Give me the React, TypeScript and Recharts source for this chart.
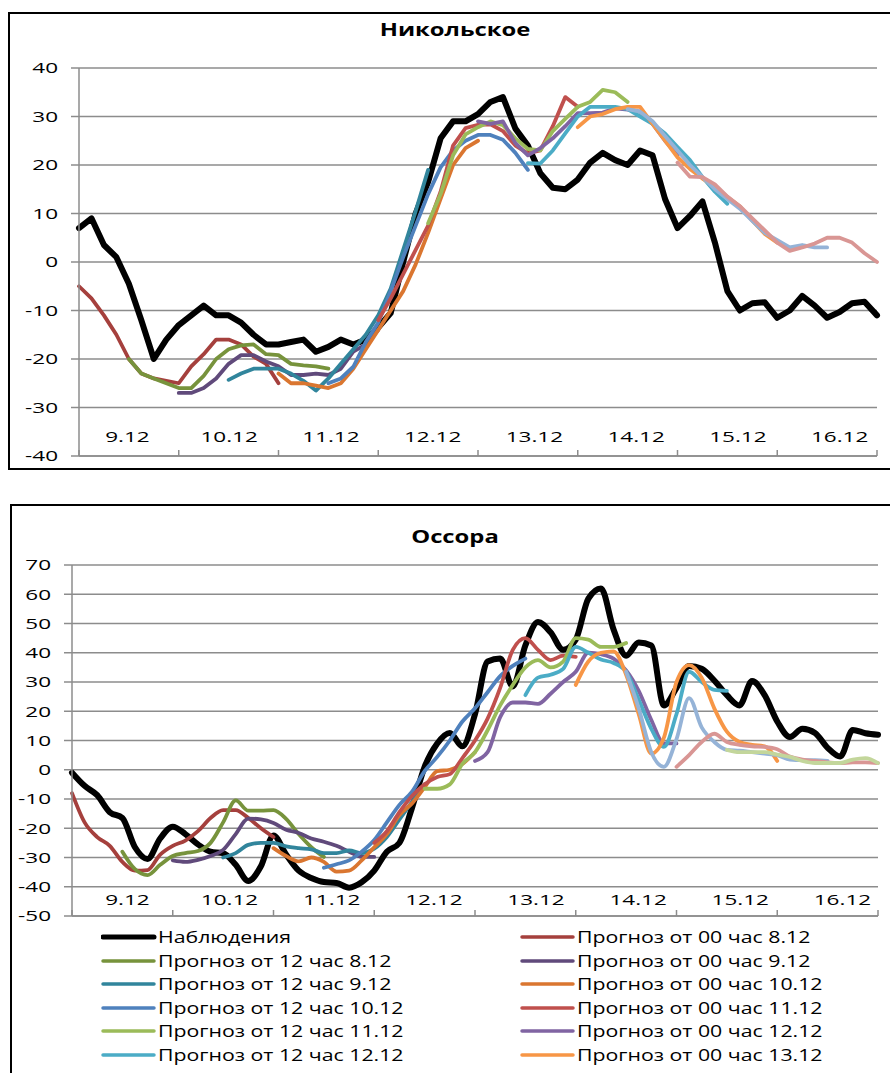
import React from 'react';
import { LineChart, Line, XAxis, YAxis, CartesianGrid } from 'recharts';

// Values are sampled every 3 hours, hour 0 = 00 h on 9.12
const STEP_HOURS = 3;

const dayLabels = ['9.12', '10.12', '11.12', '12.12', '13.12', '14.12', '15.12', '16.12'];
const axisHours = [0, 12, 24, 36, 48, 60, 72, 84, 96, 108, 120, 132, 144, 156, 168, 180, 192];

const nikTicks = [-40, -30, -20, -10, 0, 10, 20, 30, 40];
const ossTicks = [-50, -40, -30, -20, -10, 0, 10, 20, 30, 40, 50, 60, 70];

const observedLabel = 'Наблюдения';
const runLabels = [
  'Прогноз от 00 час 8.12',
  'Прогноз от 12 час 8.12',
  'Прогноз от 00 час 9.12',
  'Прогноз от 12 час 9.12',
  'Прогноз от 00 час 10.12',
  'Прогноз от 12 час 10.12',
  'Прогноз от 00 час 11.12',
  'Прогноз от 12 час 11.12',
  'Прогноз от 00 час 12.12',
  'Прогноз от 12 час 12.12',
  'Прогноз от 00 час 13.12',
  'Прогноз от 12 час 13.12',
  'Прогноз от 00 час 14.12',
  'Прогноз от 12 час 14.12',
];
// first hour shown for each run
const runStartHours = [0, 12, 24, 36, 48, 60, 72, 84, 96, 108, 120, 132, 144, 156];
const runColors = [
  '#A5403D', '#77933C', '#604A7B', '#31859C', '#DA7630', '#4F81BD', '#C0504D',
  '#9BBB59', '#8064A2', '#4BACC6', '#F79646', '#95B3D7', '#D99694', '#C3D69B',
];

// ---------- Никольское ----------
const nikObserved = [
  7, 9, 3.5, 1, -4.5, -12, -20, -16, -13, -11, -9, -11, -11, -12.5, -15, -17, -17, -16.5, -16,
  -18.5, -17.5, -16, -17, -16, -13.5, -10.5, 0, 10, 16.5, 25.5, 29, 29, 30.5, 33, 34, 27.5, 24,
  18.3, 15.3, 15, 17, 20.5, 22.5, 21, 20, 23, 22, 13, 7, 9.5, 12.5, 4, -6, -10, -8.5, -8.3, -11.5,
  -10, -7, -9, -11.5, -10.3, -8.5, -8.2, -11,
];
const nik00_08 = [-5, -7.5, -11, -15, -20, -23, -24, -24.5, -25, -21.5, -19, -16, -16, -17, -19.5, -21, -25];
const nik12_08 = [-20, -23, -24, -25, -26, -26, -23.5, -20, -18, -17.2, -17, -19, -19.2, -21, -21.3, -21.5, -22];
const nik00_09 = [-27, -27, -26, -24, -21, -19.2, -19.2, -20.5, -21.5, -23.3, -23.3, -23, -23.3, -22, -18.5, -17, -14];
const nik12_09 = [-24.3, -23, -22, -22, -22, -23, -24.5, -26.5, -24, -21, -18, -15, -11, -5.5, 2.5, 10.5, 19];
const nik00_10 = [-23, -25, -25, -25.5, -26, -25, -22, -18, -14, -10, -6, -0.5, 6, 13, 20, 23.5, 25];
const nik12_10 = [-25, -24, -21.6, -16.5, -12.5, -6, 1, 7.5, 14, 19.5, 23, 25, 26.2, 26.2, 25.2, 22.5, 19];
const nik00_11 = [-12, -7.5, -2.5, 2.5, 7.5, 14.5, 24, 27.6, 28.3, 28.4, 27, 24, 22.4, 23, 28, 34, 32];
const nik12_11 = [8, 14, 22, 26.3, 27.8, 29, 28.2, 25.5, 23.3, 23, 27, 29.5, 32, 33, 35.5, 35, 33];
const nik00_12 = [29, 28.5, 29, 24.5, 22, 23.5, 25.5, 28, 30.7, 30.7, 30.8, 31.7, 31.4, 31, 28.5, 25, 22];
const nik12_12 = [20.4, 20.3, 23, 26.5, 30, 32, 32, 32, 31.5, 30, 28.5, 26.5, 23.7, 21, 17.5, 14.5, 12];
const nik00_13 = [27.8, 30, 30.5, 31.5, 32, 32, 28.5, 25, 21.6, 19.2, 17.2, 15.6, 13.4, 11.5, 8.5, 5.8, 4];
const nik12_13 = [31.5, 31, 29, 26, 23, 20, 17.5, 15, 13, 11, 8.5, 6, 4.5, 3, 3.5, 3, 3];
const nik00_14 = [20.5, 17.6, 17.5, 16, 13.5, 11.5, 9, 6.5, 4, 2.3, 3, 3.8, 5, 5, 4, 1.8, 0];
const nikRuns = [
  nik00_08, nik12_08, nik00_09, nik12_09, nik00_10, nik12_10, nik00_11,
  nik12_11, nik00_12, nik12_12, nik00_13, nik12_13, nik00_14,
];

// ---------- Оссора ----------
const ossObserved = [
  -1, -5.5, -8.7, -14.5, -16.5, -26.5, -30.5, -23.5, -19.5, -22, -25.5, -28, -28.5, -32.5, -38, -33,
  -22.5, -29, -34.5, -37, -38.4, -38.7, -40.3, -38.5, -34.5, -28, -25, -13, 1, 9, 12.6, 8, 19, 37,
  38, 28.5, 42.5, 50.5, 47, 41, 44.5, 58.5, 62, 48, 39, 43.5, 42.5, 22, 28, 35.5, 34.5, 30.5, 25.5,
  22, 30.3, 25.5, 16.5, 11.2, 14, 12.6, 7.5, 4.5, 13.6, 12.5, 12,
];
const oss00_08 = [-8, -18, -23, -26, -31.5, -34.5, -34.3, -29, -26, -24.2, -21, -16.5, -13.8, -13.8, -16.5, -20, -23];
const oss12_08 = [-28, -34, -36, -32.5, -29.5, -28.5, -27.8, -25, -18, -10.5, -14, -14, -13.8, -16.8, -22, -26.5, -29.8];
const oss00_09 = [-31, -31.5, -30.8, -29.5, -27.4, -22, -16.7, -17, -18.2, -20.5, -21.6, -23.5, -24.6, -26, -28, -29.8, -29.8];
const oss12_09 = [-30, -28.5, -25.7, -25, -25, -26.2, -26.8, -27.2, -28.5, -28.5, -27.6, -28.5, -27, -23, -17, -11, -5];
const oss00_10 = [-26.8, -29.5, -31.3, -30, -31.5, -34.8, -34.5, -31, -26.5, -22, -15.5, -11.5, -6, -0.5, 0, 2, 6];
const oss12_10 = [-33.5, -32.3, -31, -28, -24, -18, -12, -7.5, -0.5, 4.4, 10, 16.5, 21, 26.5, 32, 35.5, 38];
const oss00_11 = [-25, -21, -14.5, -9, -5, -2.5, -1.5, 4, 10, 17.5, 28, 41, 45, 41, 37.5, 39, 38.6];
const oss12_11 = [-6.5, -6.5, -5, 2, 6, 13.5, 22, 29, 35, 37.5, 35, 37, 45, 44.5, 42, 42, 43.3];
const oss00_12 = [3, 6, 18, 23, 23, 22.5, 26, 30, 33.5, 40, 39.5, 38, 34, 27, 17, 9, 9];
const oss12_12 = [25.5, 31.5, 32.5, 34.5, 42, 40, 37.7, 36.5, 33.5, 24, 14, 7.8, 19, 33.5, 30, 27.3, 27];
const oss00_13 = [29, 37, 40, 40.5, 32.5, 19, 5.5, 11, 30, 35.8, 31.5, 21, 13, 9.5, 8.5, 8, 3];
const oss12_13 = [33.5, 21, 6, 1, 10.5, 24.5, 14.5, 9.5, 6.8, 6.5, 6, 5.5, 5, 3.5, 3.3, 3.3, 3];
const oss00_14 = [1, 5, 9.5, 12.3, 9.5, 8.5, 8, 7.8, 7, 4.5, 3.5, 3, 2.5, 2.3, 2.5, 2.5, 2.3];
const oss12_14 = [6.8, 6, 6, 6, 5.2, 4.4, 3, 2.3, 2.3, 2.3, 3.5, 4, 2.3];
const ossRuns = [
  oss00_08, oss12_08, oss00_09, oss12_09, oss00_10, oss12_10, oss00_11,
  oss12_11, oss00_12, oss12_12, oss00_13, oss12_13, oss00_14, oss12_14,
];

const FONT = "'Open Sans', 'Noto Sans', sans-serif";
const GRID = '#8C8C8C';
const TEXT_STRETCH = 1.5;

const toPoints = (start: number, values: number[]) =>
  values.map((v, i) => ({ t: start + i * STEP_HOURS, v }));

function YTick(props: any) {
  const { x, y, payload } = props;
  return (
    <text
      transform={`translate(${x},${y}) scale(${TEXT_STRETCH},1)`}
      textAnchor="end"
      dy="0.36em"
      fontSize={15}
      fontFamily={FONT}
      fill="#000"
    >
      {payload.value}
    </text>
  );
}

function DayTick(props: any) {
  const { x, y, payload, rise, shift, shiftStep } = props;
  const t = payload.value as number;
  if (t % 24 === 0) {
    return <line x1={x} x2={x} y1={y} y2={y - 6} stroke={GRID} strokeWidth={1.5} />;
  }
  const k = Math.floor(t / 24);
  const cx = x + shift + shiftStep * k;
  return (
    <text
      transform={`translate(${cx},${y - rise}) scale(${TEXT_STRETCH},1)`}
      textAnchor="middle"
      dy="0.36em"
      fontSize={15}
      fontFamily={FONT}
      fill="#000"
    >
      {dayLabels[k]}
    </text>
  );
}

type ChartProps = {
  top: number;
  height: number;
  plotTop: number;
  yWidth: number;
  right: number;
  ticks: number[];
  observed: number[];
  runs: number[][];
  curve: 'linear' | 'monotone';
  rise: number;
  shift: number;
  shiftStep: number;
};

function StationChart(p: ChartProps) {
  return (
    <div style={{ position: 'absolute', left: 0, top: p.top }}>
      <LineChart
        width={890}
        height={p.height}
        margin={{ top: p.plotTop, right: p.right, bottom: 10, left: 0 }}
      >
        <CartesianGrid horizontal vertical={false} stroke={GRID} strokeWidth={1.5} />
        <XAxis
          type="number"
          dataKey="t"
          domain={[0, 192]}
          ticks={axisHours}
          interval={0}
          height={4}
          tickSize={0}
          tickMargin={0}
          tickLine={false}
          axisLine={{ stroke: GRID, strokeWidth: 1.5 }}
          tick={(tp: any) => (
            <DayTick {...tp} rise={p.rise} shift={p.shift} shiftStep={p.shiftStep} />
          )}
        />
        <YAxis
          type="number"
          domain={[p.ticks[0], p.ticks[p.ticks.length - 1]]}
          ticks={p.ticks}
          interval={0}
          width={p.yWidth}
          tickSize={8}
          tickMargin={13}
          tickLine={{ stroke: GRID, strokeWidth: 1.5 }}
          axisLine={{ stroke: GRID, strokeWidth: 1.5 }}
          tick={(tp: any) => <YTick {...tp} />}
        />
        <Line
          data={toPoints(0, p.observed)}
          dataKey="v"
          name={observedLabel}
          type={p.curve}
          stroke="#000"
          strokeWidth={6}
          strokeLinejoin="round"
          strokeLinecap="round"
          dot={false}
          activeDot={false}
          isAnimationActive={false}
        />
        {p.runs.map((vals, i) => (
          <Line
            key={runLabels[i]}
            data={toPoints(runStartHours[i], vals)}
            dataKey="v"
            name={runLabels[i]}
            type={p.curve}
            stroke={runColors[i]}
            strokeWidth={3.8}
            strokeLinejoin="round"
            strokeLinecap="round"
            dot={false}
            activeDot={false}
            isAnimationActive={false}
          />
        ))}
      </LineChart>
    </div>
  );
}

function Title({ text, top }: { text: string; top: number }) {
  return (
    <div
      style={{
        position: 'absolute',
        left: 0,
        width: 910,
        top,
        textAlign: 'center',
        fontFamily: FONT,
        fontWeight: 700,
        fontSize: 17,
        lineHeight: '20px',
        transform: `scaleX(${1.4})`,
        transformOrigin: '455px 50%',
        color: '#000',
      }}
    >
      {text}
    </div>
  );
}

// legend: left column holds the observations and the 12 h runs, right column the 00 h runs
const legendLeft = [
  { label: observedLabel, color: '#000', width: 5 },
  ...[1, 3, 5, 7, 9].map((i) => ({ label: runLabels[i], color: runColors[i], width: 3.5 })),
];
const legendRight = [0, 2, 4, 6, 8, 10].map((i) => ({
  label: runLabels[i],
  color: runColors[i],
  width: 3.5,
}));

function LegendColumn({
  items,
  lineX,
  textX,
}: {
  items: { label: string; color: string; width: number }[];
  lineX: number;
  textX: number;
}) {
  return (
    <>
      {items.map((it, r) => {
        const cy = 937 + r * 23.5;
        return (
          <React.Fragment key={it.label}>
            <svg
              width={56}
              height={12}
              style={{ position: 'absolute', left: lineX - 2, top: cy - 6 }}
            >
              <line
                x1={2}
                x2={53}
                y1={6}
                y2={6}
                stroke={it.color}
                strokeWidth={it.width}
                strokeLinecap="round"
              />
            </svg>
            <div
              style={{
                position: 'absolute',
                left: textX,
                top: cy - 11,
                height: 22,
                lineHeight: '22px',
                fontFamily: FONT,
                fontSize: 16,
                whiteSpace: 'nowrap',
                transform: `scaleX(${1.33})`,
                transformOrigin: '0 50%',
                color: '#000',
              }}
            >
              {it.label}
            </div>
          </React.Fragment>
        );
      })}
    </>
  );
}

export default function App() {
  return (
    <div
      style={{
        position: 'absolute',
        left: 0,
        top: 0,
        width: 890,
        height: 1073,
        overflow: 'hidden',
        background: '#fff',
      }}
    >
      <div
        style={{
          position: 'absolute',
          left: 8,
          top: 12,
          width: 900,
          height: 458,
          border: '2px solid #000',
          boxSizing: 'border-box',
        }}
      />
      <div
        style={{
          position: 'absolute',
          left: 10,
          top: 504,
          width: 900,
          height: 600,
          border: '2px solid #000',
          boxSizing: 'border-box',
        }}
      />
      <Title text="Никольское" top={20} />
      <StationChart
        top={0}
        height={470}
        plotTop={68}
        yWidth={79}
        right={13}
        ticks={nikTicks}
        observed={nikObserved}
        runs={nikRuns}
        curve="linear"
        rise={19}
        shift={-1.5}
        shiftStep={2}
      />
      <Title text="Оссора" top={527} />
      <StationChart
        top={500}
        height={430}
        plotTop={65}
        yWidth={72}
        right={12}
        ticks={ossTicks}
        observed={ossObserved}
        runs={ossRuns}
        curve="monotone"
        rise={16}
        shift={5}
        shiftStep={1.4}
      />
      <LegendColumn items={legendLeft} lineX={103} textX={158} />
      <LegendColumn items={legendRight} lineX={522} textX={577} />
    </div>
  );
}
